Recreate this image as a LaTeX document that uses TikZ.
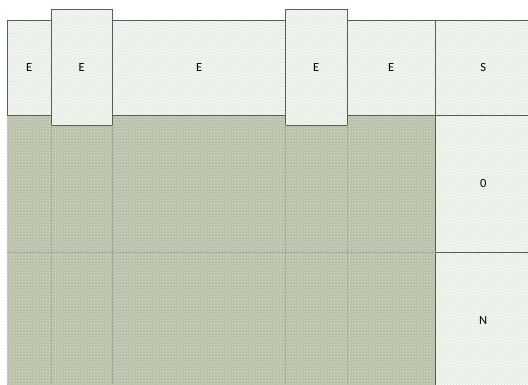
\documentclass[tikz,border=0pt]{standalone}
\usepackage{fontspec}
\setmainfont{Carlito}
\usetikzlibrary{patterns}
\definecolor{fieldgreen}{RGB}{184,192,168}
\definecolor{dotlight}{RGB}{222,228,212}
\definecolor{hatchgreen}{RGB}{212,227,212}
\definecolor{hatchbg}{RGB}{247,251,247}
\definecolor{edgegray}{RGB}{92,92,92}

\begin{document}
\begin{tikzpicture}[x=1pt,y=-1pt,font=\fontsize{12.5}{14}\selectfont,
zone/.style={fill=hatchbg,
  postaction={pattern=north east lines,pattern color=hatchgreen},
  postaction={draw=edgegray,line width=.9pt},
  inner sep=0pt,anchor=north west},
field/.style={fill=fieldgreen,postaction={pattern=crosshatch dots,pattern color=dotlight},
  inner sep=0pt,anchor=north west},
grid/.style={densely dotted,draw=edgegray!60,line width=.5pt}]

\useasboundingbox (0,0) rectangle (528,385);
\clip (0,0) rectangle (528,385);

% green field
\node[field,minimum width=428pt,minimum height=272pt] (fld) at (7,115) {};

% top row
\node[zone,minimum width=44pt,minimum height=95pt] (e1) at (7,20) {E};
\node[zone,minimum width=174pt,minimum height=95pt] (e3) at (112,20) {E};
\node[zone,minimum width=88pt,minimum height=95pt] (e5) at (347,20) {E};
\node[zone,minimum width=96pt,minimum height=95pt] (s) at (435,20) {S};

% right column
\node[zone,minimum width=96pt,minimum height=137pt] (z) at (435,115) {0};
\node[zone,minimum width=96pt,minimum height=136pt] (n) at (435,252) {N};

% raised boxes
\node[zone,minimum width=61pt,minimum height=116pt] (e2) at (51,9) {E};
\node[zone,minimum width=62pt,minimum height=116pt] (e4) at (285,9) {E};

% grid in the field
\draw[grid] (e2.south west) -- (e2.south west |- fld.south);
\draw[grid] (e2.south east) -- (e2.south east |- fld.south);
\draw[grid] (e4.south west) -- (e4.south west |- fld.south);
\draw[grid] (e4.south east) -- (e4.south east |- fld.south);
\draw[grid] (fld.west |- n.north west) -- (n.north west);
\end{tikzpicture}
\end{document}
